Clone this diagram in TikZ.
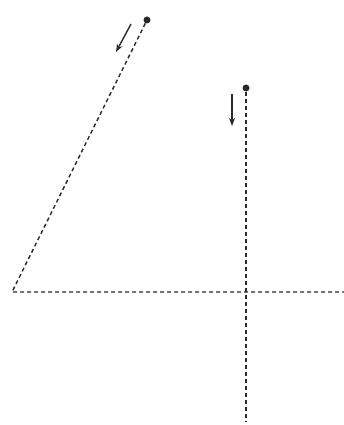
\documentclass[tikz,border=0pt]{standalone}
\usetikzlibrary{arrows.meta}
\definecolor{ink}{HTML}{2A2A2A}

\begin{document}
\begin{tikzpicture}[x=1pt,y=-1pt,
        guide/.style={draw=ink,line width=1.4pt,dash pattern=on 4pt off 3pt},
        dot/.style={circle,fill=ink,inner sep=0pt,minimum size=7pt},
        hint/.style={-{Stealth[length=8pt,width=6pt]},draw=ink,line width=1.4pt}]
        \useasboundingbox (0,0) rectangle (344,425);
        % first stroke: slanted, then across
        \node[dot] (s1) at (147,20) {};
        \coordinate (c1) at (12,292);
        \coordinate (e1) at (344,292);
        \draw[guide] (s1) -- (c1) -- (e1);
        % second stroke: straight down
        \node[dot] (s2) at (246,88) {};
        \coordinate (e2) at (246,422);
        \draw[guide] (s2) -- (e2);
        % direction hints
        \coordinate (a1) at (131,24);
        \coordinate (b1) at (116,52);
        \draw[hint] (a1) -- (b1);
        \coordinate (a2) at (232,94);
        \coordinate (b2) at (232,126);
        \draw[hint] (a2) -- (b2);
\end{tikzpicture}
\end{document}
